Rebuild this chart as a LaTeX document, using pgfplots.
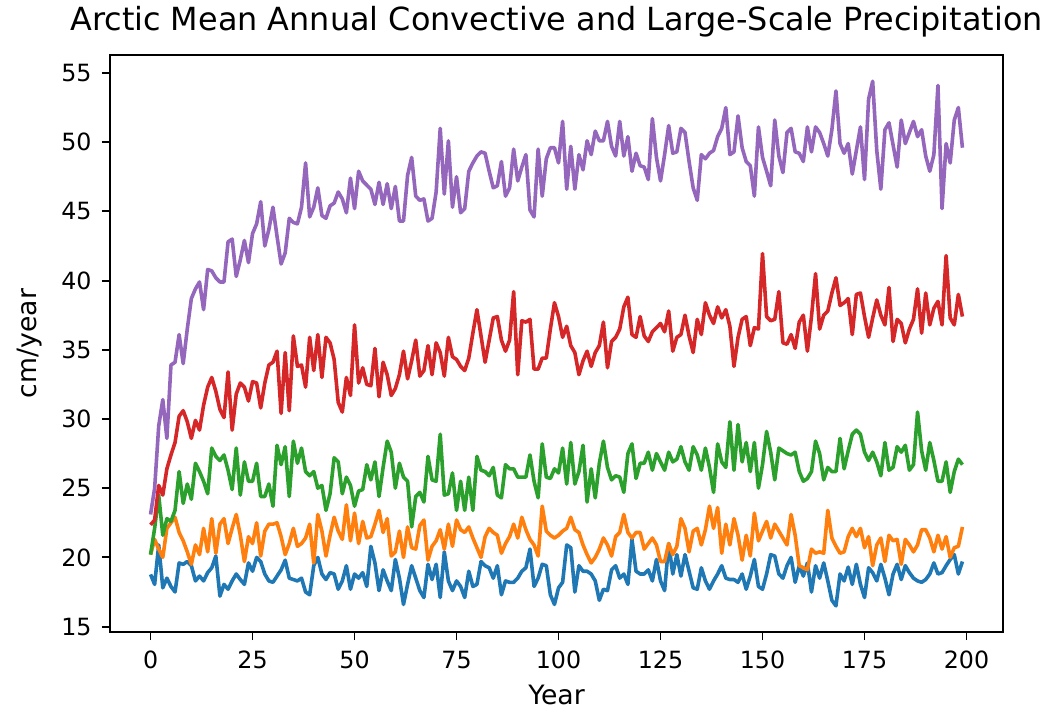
\documentclass[border=0pt]{standalone}
\usepackage{fontspec}
\setmainfont{DejaVu Sans}
\usepackage{pgfplots}
\usepackage{pgfplotstable}
\pgfplotsset{compat=1.18}
\definecolor{c0}{HTML}{1F77B4}
\definecolor{c1}{HTML}{FF7F0E}
\definecolor{c2}{HTML}{2CA02C}
\definecolor{c3}{HTML}{D62728}
\definecolor{c4}{HTML}{9467BD}
\pgfplotstableread{
x b o g r p
0 18.77 20.2 20.2 22.35 23.1
1 18.05 21.3 22.1 22.7 25.0
2 20.9 20.6 24.5 25.2 29.5
3 17.8 20.0 21.6 24.5 31.4
4 18.5 22.1 22.8 26.4 28.6
5 17.9 22.5 22.6 27.4 33.9
6 17.5 22.9 23.4 28.3 34.1
7 19.6 21.8 26.2 30.2 36.1
8 19.5 21.2 23.9 30.6 34.0
9 19.7 20.4 25.3 29.8 36.5
10 19.4 19.5 24.2 28.6 38.7
11 18.3 20.9 26.8 29.9 39.4
12 18.65 20.2 26.2 29.2 39.9
13 18.3 22.1 25.5 31.0 37.9
14 18.9 20.4 24.6 32.3 40.8
15 19.25 22.8 27.9 33.0 40.7
16 20.1 20.3 27.3 32.0 40.2
17 17.2 22.4 27.0 30.7 39.9
18 18.05 22.8 27.4 30.1 39.9
19 17.7 21.0 26.3 33.4 42.8
20 18.3 22.1 24.9 29.2 43.0
21 18.8 23.1 27.9 31.8 40.3
22 18.4 21.6 24.5 32.6 41.5
23 18.05 19.7 26.9 32.3 42.9
24 19.6 21.5 25.5 31.3 41.3
25 19.0 21.0 25.5 32.7 43.4
26 20.0 22.5 26.8 32.6 44.1
27 19.7 20.1 24.4 30.8 45.7
28 18.8 21.9 24.4 32.6 42.5
29 18.3 22.4 25.3 33.9 43.7
30 18.2 22.4 23.7 34.1 45.3
31 18.65 22.5 28.1 34.9 43.2
32 19.1 21.5 26.7 30.4 41.2
33 19.8 20.2 28.0 34.8 42.0
34 18.5 21.0 24.4 30.6 44.5
35 18.4 22.1 28.4 36.0 44.2
36 18.3 20.8 26.8 33.8 44.1
37 18.5 21.0 27.9 33.9 45.3
38 17.5 21.4 26.2 32.3 48.5
39 17.3 22.4 25.9 35.9 44.6
40 19.4 19.6 26.2 33.5 45.3
41 20.0 23.1 25.0 36.1 46.7
42 18.8 21.9 25.2 33.0 44.7
43 18.4 20.1 23.4 35.9 44.5
44 18.9 21.6 24.6 35.5 45.4
45 18.8 22.9 27.2 34.3 45.6
46 17.7 21.9 26.9 31.2 46.4
47 18.3 21.3 24.6 30.5 45.9
48 19.4 23.8 25.8 33.0 44.9
49 17.7 21.2 25.2 31.7 47.4
50 18.8 23.2 23.7 36.8 45.2
51 18.5 21.0 24.8 32.6 47.9
52 18.9 22.6 24.9 33.7 47.2
53 17.9 21.4 26.7 32.5 46.9
54 20.8 21.5 25.6 32.4 46.6
55 19.6 22.4 26.9 35.1 45.5
56 17.6 23.4 24.4 31.6 47.1
57 19.1 21.8 26.5 34.1 45.5
58 18.3 22.8 28.4 33.2 47.0
59 17.6 20.1 27.6 31.7 45.2
60 19.85 20.4 25.0 32.2 46.8
61 18.5 21.9 26.8 33.2 44.3
62 16.6 20.0 25.8 34.9 44.3
63 18.05 22.2 25.5 32.9 47.6
64 19.4 20.7 22.2 34.2 48.9
65 18.5 20.6 24.4 35.7 46.1
66 17.6 22.3 24.7 33.1 45.8
67 17.1 22.7 24.0 33.5 45.9
68 19.5 19.8 27.3 35.3 44.3
69 18.4 20.8 25.6 33.2 44.5
70 19.5 21.2 25.5 35.5 46.4
71 17.1 22.0 28.9 34.8 51.0
72 20.4 20.6 24.5 33.1 46.25
73 18.3 22.4 24.6 35.9 50.1
74 17.6 20.8 26.1 34.5 45.3
75 18.3 22.7 23.4 34.3 47.5
76 17.9 22.0 25.5 33.8 44.9
77 17.1 21.8 23.4 33.5 45.2
78 19.0 22.2 25.8 34.4 47.9
79 17.9 21.4 23.4 36.2 48.5
80 18.05 20.7 27.3 37.9 49.0
81 19.7 20.0 26.3 36.0 49.3
82 19.4 21.5 26.2 34.1 49.2
83 19.25 22.1 25.9 35.7 47.9
84 18.5 21.8 26.5 37.3 46.7
85 19.4 21.6 24.5 37.4 46.85
86 17.3 20.3 24.3 35.7 48.6
87 18.3 21.0 26.7 34.9 46.1
88 18.2 21.5 26.4 35.7 46.7
89 18.2 22.4 26.4 39.2 49.5
90 18.5 21.4 25.8 33.2 47.2
91 19.0 22.9 25.8 37.1 48.2
92 19.25 22.0 25.8 37.0 49.1
93 20.6 21.3 27.4 37.2 45.1
94 17.9 20.9 25.5 33.6 44.6
95 18.5 20.1 24.3 33.6 49.5
96 19.5 23.7 28.2 34.4 46.1
97 19.4 21.9 25.8 34.4 48.8
98 17.3 21.6 25.7 36.5 49.6
99 16.6 21.4 26.4 38.4 49.6
100 17.8 21.6 26.1 37.4 48.5
101 18.2 21.9 27.9 35.9 51.5
102 20.9 22.1 25.3 36.7 46.6
103 20.7 22.9 28.3 35.3 49.7
104 17.5 22.0 25.3 34.8 46.6
105 19.4 21.8 26.2 33.2 49.1
106 19.0 20.9 28.1 34.2 48.0
107 19.0 20.2 24.0 34.9 50.1
108 18.8 19.6 26.4 33.8 49.1
109 18.3 20.0 24.3 34.8 50.8
110 16.9 20.6 26.8 35.3 50.1
111 17.7 21.4 28.4 37.0 50.1
112 17.6 20.9 26.5 33.7 51.5
113 19.1 20.1 25.6 35.6 49.7
114 19.4 21.5 25.9 35.9 49.0
115 18.5 21.8 25.8 36.5 51.5
116 18.8 23.1 24.7 38.1 49.0
117 18.05 21.8 27.5 38.8 50.4
118 21.3 21.4 28.2 36.1 47.9
119 19.0 21.8 25.7 35.9 49.2
120 18.8 21.8 26.8 37.4 48.3
121 18.8 20.6 26.8 36.0 48.2
122 19.1 21.0 27.6 35.6 47.3
123 18.3 21.4 26.3 36.3 51.7
124 19.85 20.9 27.5 36.6 48.9
125 18.3 19.7 26.9 36.9 47.2
126 17.6 19.7 26.3 36.3 49.1
127 21.0 21.0 27.6 37.8 51.2
128 18.8 20.2 26.9 34.9 49.2
129 20.2 20.8 27.1 35.9 49.3
130 18.65 22.8 28.0 36.1 51.0
131 20.2 22.1 26.9 37.5 50.7
132 19.0 20.4 26.3 36.0 48.6
133 17.8 21.9 28.0 34.8 46.7
134 17.7 22.1 27.4 37.2 45.8
135 19.25 20.9 26.3 36.1 49.1
136 18.3 22.0 27.9 38.4 48.8
137 17.7 23.7 26.5 37.5 49.2
138 18.3 22.1 24.7 36.9 49.4
139 18.8 23.6 28.2 38.1 50.4
140 19.4 20.3 26.9 37.3 51.0
141 18.5 22.4 26.5 37.9 52.5
142 18.4 20.9 29.8 36.7 49.1
143 18.4 22.8 26.3 33.8 49.3
144 18.2 21.6 29.6 35.9 51.9
145 18.8 19.8 26.9 37.2 49.6
146 17.7 21.6 28.3 37.4 48.6
147 18.65 20.1 26.2 35.3 48.3
148 19.85 23.2 28.3 36.6 46.1
149 17.9 21.2 25.0 36.5 51.1
150 17.7 21.9 26.7 41.95 48.9
151 18.8 22.6 29.1 37.4 47.9
152 20.2 21.4 27.6 37.1 46.85
153 20.1 22.4 25.6 37.2 51.6
154 18.8 21.9 27.9 39.2 49.0
155 18.5 21.4 27.7 35.5 47.8
156 19.4 20.9 27.5 35.4 50.7
157 20.0 23.1 27.4 36.1 51.0
158 18.2 21.6 27.6 35.1 49.3
159 19.4 19.4 26.2 37.0 49.2
160 18.65 19.25 25.5 37.5 48.6
161 19.6 19.1 25.7 34.9 51.1
162 17.5 20.6 26.2 37.4 49.3
163 19.4 20.3 28.4 40.5 51.1
164 18.5 20.4 27.5 36.5 50.7
165 19.6 20.3 25.6 37.5 49.9
166 18.3 23.4 26.5 37.8 49.0
167 16.9 21.4 26.2 39.1 50.9
168 16.5 20.8 26.2 40.2 53.7
169 18.8 20.3 28.6 38.2 49.9
170 18.3 20.4 26.4 38.4 49.2
171 19.3 21.5 27.7 38.7 49.9
172 18.05 22.1 28.9 36.1 47.7
173 19.5 21.5 29.2 39.0 49.4
174 18.05 22.1 28.9 39.1 51.1
175 17.1 20.7 27.6 37.4 47.3
176 19.25 21.5 27.0 35.9 53.1
177 18.9 19.4 27.6 37.3 54.4
178 18.3 20.9 26.9 38.6 49.4
179 19.5 21.4 25.9 37.5 46.6
180 18.5 19.7 28.3 36.8 50.9
181 17.3 21.6 26.3 39.5 51.4
182 18.8 21.2 26.5 35.6 49.8
183 19.5 21.3 28.0 37.2 48.2
184 18.4 19.5 27.6 36.9 51.6
185 19.4 21.3 28.1 35.5 49.9
186 18.9 20.9 26.3 36.5 50.7
187 18.5 20.4 26.7 37.2 51.5
188 18.3 20.9 30.5 39.4 50.4
189 18.2 22.0 27.7 36.2 50.9
190 18.4 22.0 26.3 39.1 49.0
191 18.8 21.4 28.3 36.8 47.9
192 19.6 20.4 27.0 38.0 49.1
193 18.8 21.6 25.5 38.5 54.1
194 18.9 20.6 25.5 36.8 45.2
195 19.4 21.5 26.9 41.8 49.9
196 19.85 20.0 24.7 37.3 48.5
197 20.2 20.7 26.2 36.8 51.6
198 18.8 20.8 27.1 39.0 52.5
199 19.7 22.2 26.7 37.4 49.6
}\datatable
\begin{document}
\begin{tikzpicture}
\begin{axis}[
  scale only axis,
  width=670pt, height=433pt,
  xmin=-9.95, xmax=208.95, ymin=14.6, ymax=56.3,
  xtick={0,25,...,200}, ytick={15,20,...,55},
  xtick pos=bottom, ytick pos=left,
  tick align=outside, major tick length=6pt,
  every tick/.style={black, line width=1.4pt},
  axis line style={line width=1.4pt},
  /pgf/number format/assume math mode=true,
  tick label style={font=\fontsize{17.8}{20}\selectfont},
  xticklabel style={yshift=-4.5pt},
  yticklabel style={xshift=-4.25pt},
  every axis title/.style={at={(rel axis cs:0.5,1)}, anchor=center, yshift=24.75pt, font=\fontsize{23.9}{27}\selectfont},
  every axis x label/.style={at={(rel axis cs:0.5,0)}, anchor=center, yshift=-47pt, font=\fontsize{20}{23}\selectfont},
  every axis y label/.style={at={(rel axis cs:0,0.5)}, anchor=center, rotate=90, yshift=60pt, font=\fontsize{20}{23}\selectfont},
  title={Arctic Mean Annual Convective and Large-Scale Precipitation},
  xlabel={Year}, ylabel={cm/year},
  every axis plot/.append style={line width=2.7pt, line join=round, no markers},
]
\addplot[c0] table[x=x,y=b]{\datatable};
\addplot[c1] table[x=x,y=o]{\datatable};
\addplot[c2] table[x=x,y=g]{\datatable};
\addplot[c3] table[x=x,y=r]{\datatable};
\addplot[c4] table[x=x,y=p]{\datatable};
\coordinate (sw) at (rel axis cs:0,0);
\coordinate (ne) at (rel axis cs:1,1);
\end{axis}
\path (sw) ++(-82.5pt,-60.75pt);
\path (ne) ++(36pt,41.25pt);
\end{tikzpicture}
\end{document}
